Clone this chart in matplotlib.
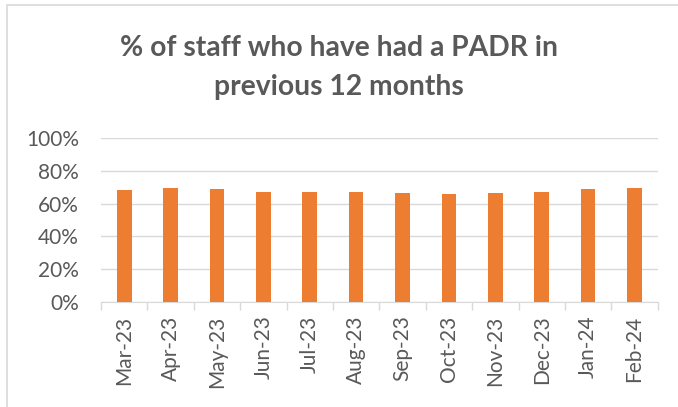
import matplotlib
matplotlib.use("Agg")
import matplotlib.pyplot as plt
import matplotlib.patches as mpatches
from matplotlib.ticker import FixedLocator, PercentFormatter

months = ["Mar-23", "Apr-23", "May-23", "Jun-23", "Jul-23", "Aug-23",
          "Sep-23", "Oct-23", "Nov-23", "Dec-23", "Jan-24", "Feb-24"]
padr_pct = [68.5, 69.4, 68.8, 67.1, 67.1, 67.1,
            66.3, 65.7, 66.3, 67.1, 68.8, 69.4]
y_ticks = [0, 20, 40, 60, 80, 100]

text_col = "#595959"
grid_col = "#d9d9d9"

plt.rcParams["font.family"] = ["Lato", "DejaVu Sans"]

fig = plt.figure(figsize=(6.78, 4.07), dpi=100)
ax = fig.add_axes([0.149, 0.2587, 0.821, 0.4015])

# chart frame (only left/top edges fall inside the picture)
fig.patches.append(mpatches.Rectangle((7 / 678, -0.1), 1.2, 1 - 5 / 407 + 0.1,
                                      transform=fig.transFigure, fill=False,
                                      ec=grid_col, lw=1.2))

x = range(len(months))
ax.bar(x, padr_pct, width=0.315, color="#ED7D31", zorder=3)

ax.set_xlim(-0.5, len(months) - 0.5)
ax.set_ylim(0, 100)
ax.set_yticks(y_ticks)
ax.yaxis.set_major_formatter(PercentFormatter(decimals=0))
ax.set_xticks(list(x))
ax.set_xticklabels(months, rotation=90)
ax.xaxis.set_minor_locator(FixedLocator([i - 0.5 for i in range(len(months) + 1)]))

ax.tick_params(axis="x", which="major", length=0, pad=10, labelsize=15,
               labelcolor=text_col)
ax.tick_params(axis="x", which="minor", length=6, color=grid_col, width=1)
ax.tick_params(axis="y", length=0, pad=16, labelsize=15, labelcolor=text_col)

ax.grid(axis="y", color=grid_col, lw=1, zorder=0)
for s in ["left", "right", "top"]:
    ax.spines[s].set_visible(False)
ax.spines["bottom"].set_color(grid_col)

fig.text(0.5, 1 - 48 / 407, "% of staff who have had a PADR in",
         ha="center", va="center", fontsize=20.3, fontweight="bold", color=text_col)
fig.text(0.5, 1 - 87 / 407, "previous 12 months",
         ha="center", va="center", fontsize=20.3, fontweight="bold", color=text_col)

fig.savefig("out.png", dpi=100)
